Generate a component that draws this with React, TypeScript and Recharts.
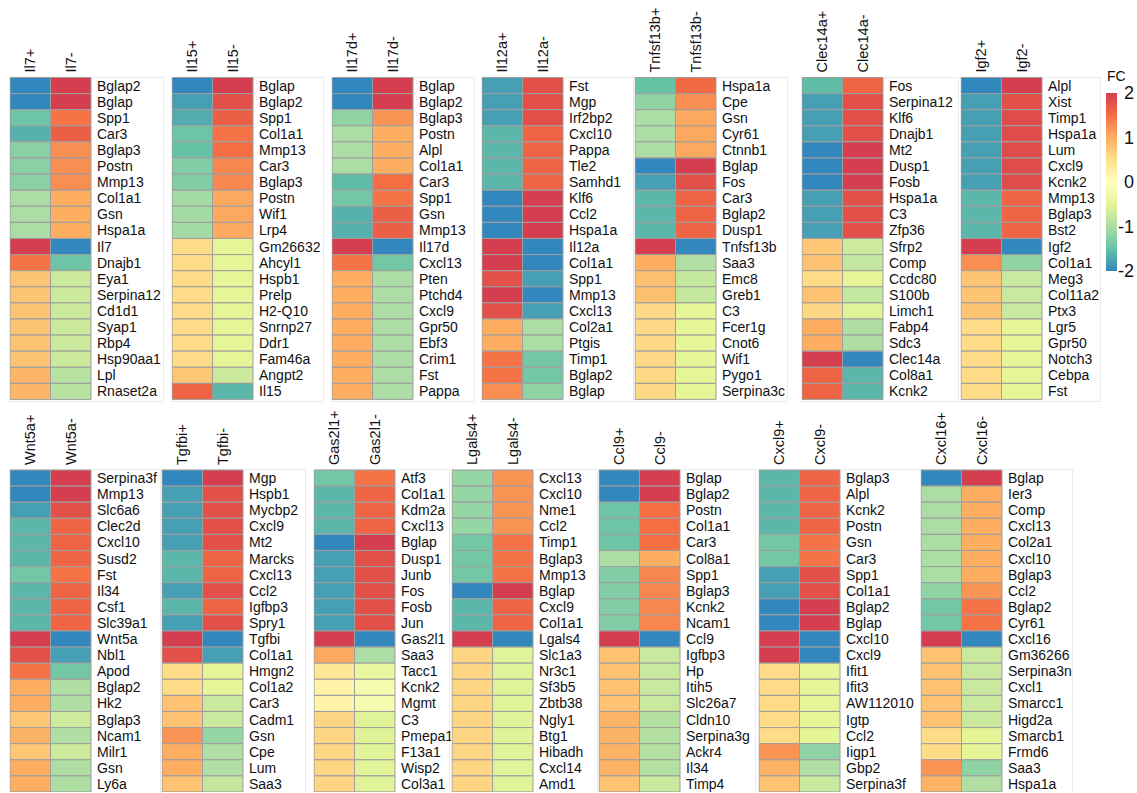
import React from 'react';
import { BarChart, Bar, Cell, XAxis, YAxis } from 'recharts';

// Spectral scale, FC -2 (blue) .. +2 (red)
const SPECTRAL = ['#3288BD', '#66C2A5', '#ABDDA4', '#E6F598', '#FFFFBF', '#FEE08B', '#FDAE61', '#F46D43', '#D53E4F'];
const FC_TICKS = [2, 1, 0, -1, -2];

// ---- top row ----
const il7Genes = ['Bglap2', 'Bglap', 'Spp1', 'Car3', 'Bglap3', 'Postn', 'Mmp13', 'Col1a1', 'Gsn', 'Hspa1a', 'Il7', 'Dnajb1', 'Eya1', 'Serpina12', 'Cd1d1', 'Syap1', 'Rbp4', 'Hsp90aa1', 'Lpl', 'Rnaset2a'];
const il7Plus = [-2, -2, -1.45, -1.65, -1.25, -1.25, -1.25, -1.0, -1.0, -1.0, 2, 1.45, 0.78, 0.78, 0.78, 0.78, 0.78, 0.78, 0.92, 0.92];
const il7Minus = [2, 2, 1.45, 1.65, 1.25, 1.25, 1.25, 1.0, 1.0, 1.0, -2, -1.45, -0.72, -0.72, -0.72, -0.72, -0.72, -0.72, -0.9, -0.9];

const il15Genes = ['Bglap', 'Bglap2', 'Spp1', 'Col1a1', 'Mmp13', 'Car3', 'Bglap3', 'Postn', 'Wif1', 'Lrp4', 'Gm26632', 'Ahcyl1', 'Hspb1', 'Prelp', 'H2-Q10', 'Snrnp27', 'Ddr1', 'Fam46a', 'Angpt2', 'Il15'];
const il15Plus = [-2, -1.8, -1.7, -1.45, -1.5, -1.3, -1.3, -1.05, -1.05, -1.05, 0.55, 0.55, 0.55, 0.55, 0.55, 0.55, 0.55, 0.55, 0.75, 1.6];
const il15Minus = [2, 1.8, 1.65, 1.45, 1.5, 1.3, 1.3, 1.05, 1.05, 1.05, -0.5, -0.5, -0.5, -0.5, -0.5, -0.5, -0.5, -0.5, -0.72, -1.6];

const il17dGenes = ['Bglap', 'Bglap2', 'Bglap3', 'Postn', 'Alpl', 'Col1a1', 'Car3', 'Spp1', 'Gsn', 'Mmp13', 'Il17d', 'Cxcl13', 'Pten', 'Ptchd4', 'Cxcl9', 'Gpr50', 'Ebf3', 'Crim1', 'Fst', 'Pappa'];
const il17dPlus = [-2, -2, -1.2, -1.0, -1.0, -1.0, -1.55, -1.4, -1.65, -1.65, 2, 1.45, 1.0, 1.0, 1.0, 1.0, 1.0, 1.0, 1.0, 1.0];
const il17dMinus = [2, 2, 1.2, 1.0, 1.0, 1.0, 1.5, 1.45, 1.65, 1.65, -2, -1.4, -1.0, -1.0, -1.0, -1.0, -1.0, -1.0, -1.0, -1.0];

const il12aGenes = ['Fst', 'Mgp', 'Irf2bp2', 'Cxcl10', 'Pappa', 'Tle2', 'Samhd1', 'Klf6', 'Ccl2', 'Hspa1a', 'Il12a', 'Col1a1', 'Spp1', 'Mmp13', 'Cxcl13', 'Col2a1', 'Ptgis', 'Timp1', 'Bglap2', 'Bglap'];
const il12aPlus = [-1.8, -1.8, -1.8, -1.6, -1.6, -1.6, -1.6, -2, -2, -2, 2, 2, 1.8, 2, 1.8, 1.0, 1.0, 1.45, 1.45, 1.25];
const il12aMinus = [1.8, 1.8, 1.8, 1.6, 1.6, 1.6, 1.6, 2, 2, 2, -2, -2, -1.8, -2, -1.8, -1.0, -1.0, -1.4, -1.4, -1.2];

const tnfsf13bGenes = ['Hspa1a', 'Cpe', 'Gsn', 'Cyr61', 'Ctnnb1', 'Bglap', 'Fos', 'Car3', 'Bglap2', 'Dusp1', 'Tnfsf13b', 'Saa3', 'Emc8', 'Greb1', 'C3', 'Fcer1g', 'Cnot6', 'Wif1', 'Pygo1', 'Serpina3c'];
const tnfsf13bPlus = [-1.5, -1.2, -1.0, -1.0, -1.0, -2, -1.8, -1.6, -1.6, -1.6, 2, 1.0, 0.82, 0.82, 0.57, 0.57, 0.57, 0.57, 0.57, 0.57];
const tnfsf13bMinus = [1.55, 1.25, 1.05, 1.05, 1.05, 2, 1.8, 1.6, 1.6, 1.6, -2, -0.95, -0.78, -0.78, -0.5, -0.5, -0.5, -0.5, -0.5, -0.5];

const clec14aGenes = ['Fos', 'Serpina12', 'Klf6', 'Dnajb1', 'Mt2', 'Dusp1', 'Fosb', 'Hspa1a', 'C3', 'Zfp36', 'Sfrp2', 'Comp', 'Ccdc80', 'S100b', 'Limch1', 'Fabp4', 'Sdc3', 'Clec14a', 'Col8a1', 'Kcnk2'];
const clec14aPlus = [-1.55, -1.8, -1.8, -1.8, -2, -2, -2, -1.8, -1.8, -1.8, 0.75, 0.8, 0.55, 0.8, 0.6, 1.0, 1.0, 2, 1.6, 1.6];
const clec14aMinus = [1.6, 1.8, 1.8, 1.8, 2, 2, 2, 1.8, 1.8, 1.8, -0.7, -0.8, -0.5, -0.8, -0.55, -0.97, -0.97, -2, -1.6, -1.6];

const igf2Genes = ['Alpl', 'Xist', 'Timp1', 'Hspa1a', 'Lum', 'Cxcl9', 'Kcnk2', 'Mmp13', 'Bglap3', 'Bst2', 'Igf2', 'Col1a1', 'Meg3', 'Col11a2', 'Ptx3', 'Lgr5', 'Gpr50', 'Notch3', 'Cebpa', 'Fst'];
const igf2Plus = [-2, -1.8, -1.8, -1.8, -1.8, -1.8, -1.8, -1.6, -1.6, -1.6, 2, 1.25, 0.78, 0.78, 0.78, 0.55, 0.55, 0.55, 0.55, 0.55];
const igf2Minus = [2, 1.8, 1.85, 1.85, 1.85, 1.85, 1.85, 1.6, 1.6, 1.6, -2, -1.2, -0.75, -0.75, -0.75, -0.5, -0.5, -0.5, -0.5, -0.5];

// ---- bottom row ----
const wnt5aGenes = ['Serpina3f', 'Mmp13', 'Slc6a6', 'Clec2d', 'Cxcl10', 'Susd2', 'Fst', 'Il34', 'Csf1', 'Slc39a1', 'Wnt5a', 'Nbl1', 'Apod', 'Bglap2', 'Hk2', 'Bglap3', 'Ncam1', 'Milr1', 'Gsn', 'Ly6a'];
const wnt5aPlus = [-2, -2, -1.8, -1.6, -1.6, -1.6, -1.4, -1.6, -1.6, -1.6, 2, 1.8, 1.45, 1.0, 1.0, 0.75, 0.95, 0.75, 1.0, 1.0];
const wnt5aMinus = [2, 2, 1.8, 1.6, 1.6, 1.6, 1.45, 1.6, 1.6, 1.6, -2, -1.8, -1.4, -0.97, -0.97, -0.7, -0.95, -0.7, -0.97, -0.97];

const tgfbiGenes = ['Mgp', 'Hspb1', 'Mycbp2', 'Cxcl9', 'Mt2', 'Marcks', 'Cxcl13', 'Ccl2', 'Igfbp3', 'Spry1', 'Tgfbi', 'Col1a1', 'Hmgn2', 'Col1a2', 'Car3', 'Cadm1', 'Gsn', 'Cpe', 'Lum', 'Saa3'];
const tgfbiPlus = [-2, -1.8, -1.8, -1.8, -1.8, -1.6, -1.6, -1.8, -1.6, -1.8, 2, 1.8, 0.55, 0.55, 0.8, 0.8, 1.2, 1.0, 1.0, 0.8];
const tgfbiMinus = [2, 1.8, 1.8, 1.8, 1.8, 1.6, 1.6, 1.8, 1.6, 1.8, -2, -1.8, -0.5, -0.5, -0.75, -0.75, -1.15, -0.95, -0.95, -0.8];

const gas2l1Genes = ['Atf3', 'Col1a1', 'Kdm2a', 'Cxcl13', 'Bglap', 'Dusp1', 'Junb', 'Fos', 'Fosb', 'Jun', 'Gas2l1', 'Saa3', 'Tacc1', 'Kcnk2', 'Mgmt', 'C3', 'Pmepa1', 'F13a1', 'Wisp2', 'Col3a1'];
const gas2l1Plus = [-1.4, -1.6, -1.6, -1.6, -2, -1.8, -1.8, -1.8, -1.8, -1.8, 2, 1.05, 0.4, 0.2, 0.2, 0.6, 0.6, 0.6, 0.6, 0.6];
const gas2l1Minus = [1.45, 1.6, 1.6, 1.6, 2, 1.8, 1.8, 1.8, 1.8, 1.8, -2, -1.0, -0.4, -0.2, -0.2, -0.55, -0.55, -0.55, -0.55, -0.55];

const lgals4Genes = ['Cxcl13', 'Cxcl10', 'Nme1', 'Ccl2', 'Timp1', 'Bglap3', 'Mmp13', 'Bglap', 'Cxcl9', 'Col1a1', 'Lgals4', 'Slc1a3', 'Nr3c1', 'Sf3b5', 'Zbtb38', 'Ngly1', 'Btg1', 'Hibadh', 'Cxcl14', 'Amd1'];
const lgals4Plus = [-1.15, -1.15, -1.15, -1.15, -1.4, -1.4, -1.4, -2, -1.6, -1.6, 2, 0.6, 0.6, 0.6, 0.6, 0.6, 0.6, 0.6, 0.6, 0.6];
const lgals4Minus = [1.2, 1.2, 1.2, 1.2, 1.45, 1.45, 1.45, 2, 1.6, 1.6, -2, -0.55, -0.55, -0.55, -0.55, -0.55, -0.55, -0.55, -0.55, -0.55];

const ccl9Genes = ['Bglap', 'Bglap2', 'Postn', 'Col1a1', 'Car3', 'Col8a1', 'Spp1', 'Bglap3', 'Kcnk2', 'Ncam1', 'Ccl9', 'Igfbp3', 'Hp', 'Itih5', 'Slc26a7', 'Cldn10', 'Serpina3g', 'Ackr4', 'Il34', 'Timp4'];
const ccl9Plus = [-2, -2, -1.45, -1.45, -1.45, -1.0, -1.3, -1.3, -1.3, -1.3, 2, 0.8, 0.8, 0.8, 0.8, 0.95, 0.95, 0.95, 0.95, 0.8];
const ccl9Minus = [2, 2, 1.5, 1.5, 1.5, 1.0, 1.3, 1.3, 1.3, 1.3, -2, -0.75, -0.75, -0.75, -0.75, -0.92, -0.92, -0.92, -0.92, -0.75];

const cxcl9Genes = ['Bglap3', 'Alpl', 'Kcnk2', 'Postn', 'Gsn', 'Car3', 'Spp1', 'Col1a1', 'Bglap2', 'Bglap', 'Cxcl10', 'Cxcl9', 'Ifit1', 'Ifit3', 'AW112010', 'Igtp', 'Ccl2', 'Iigp1', 'Gbp2', 'Serpina3f'];
const cxcl9Plus = [-1.6, -1.6, -1.6, -1.6, -1.4, -1.4, -1.8, -1.8, -2, -2, 2, 2, 0.55, 0.55, 0.55, 0.55, 0.55, 1.2, 0.95, 0.8];
const cxcl9Minus = [1.6, 1.6, 1.6, 1.6, 1.45, 1.45, 1.8, 1.8, 2, 2, -2, -2, -0.5, -0.5, -0.5, -0.5, -0.5, -1.2, -0.95, -0.75];

const cxcl16Genes = ['Bglap', 'Ier3', 'Comp', 'Cxcl13', 'Col2a1', 'Cxcl10', 'Bglap3', 'Ccl2', 'Bglap2', 'Cyr61', 'Cxcl16', 'Gm36266', 'Serpina3n', 'Cxcl1', 'Smarcc1', 'Higd2a', 'Smarcb1', 'Frmd6', 'Saa3', 'Hspa1a'];
const cxcl16Plus = [-2, -1.0, -1.0, -1.0, -1.0, -1.0, -1.0, -1.2, -1.4, -1.4, 2, 0.8, 0.8, 0.8, 0.8, 0.8, 0.55, 0.55, 1.2, 0.95];
const cxcl16Minus = [2, 1.0, 1.0, 1.0, 1.0, 1.0, 1.0, 1.2, 1.45, 1.45, -2, -0.75, -0.75, -0.75, -0.75, -0.75, -0.5, -0.5, -1.2, -0.95];

interface PanelData {
  name: string;
  genes: string[];
  plus: number[];
  minus: number[];
}

const TOP_PANELS: PanelData[] = [
  { name: 'Il7', genes: il7Genes, plus: il7Plus, minus: il7Minus },
  { name: 'Il15', genes: il15Genes, plus: il15Plus, minus: il15Minus },
  { name: 'Il17d', genes: il17dGenes, plus: il17dPlus, minus: il17dMinus },
  { name: 'Il12a', genes: il12aGenes, plus: il12aPlus, minus: il12aMinus },
  { name: 'Tnfsf13b', genes: tnfsf13bGenes, plus: tnfsf13bPlus, minus: tnfsf13bMinus },
  { name: 'Clec14a', genes: clec14aGenes, plus: clec14aPlus, minus: clec14aMinus },
  { name: 'Igf2', genes: igf2Genes, plus: igf2Plus, minus: igf2Minus },
];

const BOTTOM_PANELS: PanelData[] = [
  { name: 'Wnt5a', genes: wnt5aGenes, plus: wnt5aPlus, minus: wnt5aMinus },
  { name: 'Tgfbi', genes: tgfbiGenes, plus: tgfbiPlus, minus: tgfbiMinus },
  { name: 'Gas2l1', genes: gas2l1Genes, plus: gas2l1Plus, minus: gas2l1Minus },
  { name: 'Lgals4', genes: lgals4Genes, plus: lgals4Plus, minus: lgals4Minus },
  { name: 'Ccl9', genes: ccl9Genes, plus: ccl9Plus, minus: ccl9Minus },
  { name: 'Cxcl9', genes: cxcl9Genes, plus: cxcl9Plus, minus: cxcl9Minus },
  { name: 'Cxcl16', genes: cxcl16Genes, plus: cxcl16Plus, minus: cxcl16Minus },
];

// layout: left edge of the cells and width of the light frame round each panel
const TOP_LEFT = [10, 172, 332, 482, 635, 802, 961];
const TOP_FRAME = [153, 151, 142, 151, 152, 156, 139];
const BOTTOM_LEFT = [10, 162, 314, 452, 599, 759, 921];
const BOTTOM_FRAME = [150, 143, 135, 145, 156, 161, 151];

const FONT = '"Liberation Sans", Arial, Helvetica, sans-serif';
const ROW_H = 16.1;
const PLOT_W = 81;
const LABEL_W = 95;

const hexToRgb = (h: string) => [1, 3, 5].map(i => parseInt(h.slice(i, i + 2), 16));

const fcColor = (v: number) => {
  const c = Math.max(-2, Math.min(2, v));
  const t = ((c + 2) / 4) * (SPECTRAL.length - 1);
  const i = Math.min(Math.floor(t), SPECTRAL.length - 2);
  const f = t - i;
  const a = hexToRgb(SPECTRAL[i]);
  const b = hexToRgb(SPECTRAL[i + 1]);
  const mix = a.map((x, k) => Math.round(x + (b[k] - x) * f));
  return `rgb(${mix[0]},${mix[1]},${mix[2]})`;
};

const HeatPanel: React.FC<{ panel: PanelData; left: number; top: number; header: number; frameW: number }> = ({ panel, left, top, header, frameW }) => {
  const rows = panel.genes.map((gene, i) => ({
    gene,
    plusCell: 1,
    minusCell: 1,
    plus: panel.plus[i],
    minus: panel.minus[i],
  }));
  const bodyH = ROW_H * rows.length;

  const columnTick = (props: any) => {
    const { x, y, payload } = props;
    const label = payload.value < 1 ? `${panel.name}+` : `${panel.name}-`;
    return (
      <text x={x} y={y} transform={`rotate(-90 ${x} ${y})`} textAnchor="start" dy="0.36em"
        fontSize={14.5} fontFamily={FONT} fill="#111">
        {label}
      </text>
    );
  };

  return (
    <>
      <div style={{
        position: 'absolute', left: left - 1, top: top + header - 1,
        width: frameW, height: bodyH + 1, border: '1px solid #ebebeb',
      }} />
      <div style={{ position: 'absolute', left, top }}>
        <BarChart width={PLOT_W + LABEL_W} height={header + bodyH} data={rows} layout="vertical"
          margin={{ top: 0, right: 0, bottom: 0, left: 0 }} barCategoryGap={0} barGap={0}>
          <XAxis type="number" orientation="top" domain={[0, 2]} ticks={[0.5, 1.5]} height={header}
            axisLine={false} tickLine={false} tickSize={0} tickMargin={5} interval={0} tick={columnTick} />
          <YAxis type="category" dataKey="gene" orientation="right" width={LABEL_W}
            axisLine={false} tickLine={false} tickSize={0} tickMargin={6} interval={0}
            tick={{ fontSize: 14, fill: '#111', fontFamily: FONT }} />
          <Bar dataKey="plusCell" stackId="fc" isAnimationActive={false} stroke="#9e9e9e" strokeWidth={1}>
            {rows.map((r, i) => <Cell key={`p-${i}`} fill={fcColor(r.plus)} />)}
          </Bar>
          <Bar dataKey="minusCell" stackId="fc" isAnimationActive={false} stroke="#9e9e9e" strokeWidth={1}>
            {rows.map((r, i) => <Cell key={`m-${i}`} fill={fcColor(r.minus)} />)}
          </Bar>
        </BarChart>
      </div>
    </>
  );
};

const legendData = [{ key: 'FC', span: [-2, 2] }];

const legendTick = (props: any) => {
  const { x, y, payload } = props;
  return (
    <text x={x + 15} y={y} textAnchor="end" dy="0.36em" fontSize={18} fontFamily={FONT} fill="#111">
      {payload.value}
    </text>
  );
};

const FcLegend: React.FC = () => (
  <>
    <svg width={0} height={0} style={{ position: 'absolute' }}>
      <defs>
        <linearGradient id="fcScale" x1="0" y1="1" x2="0" y2="0">
          {SPECTRAL.map((c, i) => (
            <stop key={c} offset={`${(i / (SPECTRAL.length - 1)) * 100}%`} stopColor={c} />
          ))}
        </linearGradient>
      </defs>
    </svg>
    <div style={{ position: 'absolute', left: 1107, top: 68, fontSize: 14, fontFamily: FONT, color: '#111' }}>FC</div>
    <div style={{ position: 'absolute', left: 1106, top: 77 }}>
      <BarChart width={36} height={210} data={legendData} margin={{ top: 16, right: 0, bottom: 16, left: 0 }} barCategoryGap={0}>
        <XAxis dataKey="key" hide />
        <YAxis type="number" domain={[-2, 2]} ticks={FC_TICKS} orientation="right" width={25}
          axisLine={false} tickLine={false} tickSize={0} tickMargin={2} interval={0} tick={legendTick} />
        <Bar dataKey="span" fill="url(#fcScale)" isAnimationActive={false} />
      </BarChart>
    </div>
  </>
);

export default function App() {
  return (
    <div style={{ position: 'absolute', left: 0, top: 0, width: 1137, height: 793, background: '#fff', overflow: 'hidden', fontFamily: FONT }}>
      {TOP_PANELS.map((p, i) => (
        <HeatPanel key={p.name} panel={p} left={TOP_LEFT[i]} top={0} header={77.5} frameW={TOP_FRAME[i]} />
      ))}
      {BOTTOM_PANELS.map((p, i) => (
        <HeatPanel key={p.name} panel={p} left={BOTTOM_LEFT[i]} top={400} header={70} frameW={BOTTOM_FRAME[i]} />
      ))}
      <FcLegend />
    </div>
  );
}
